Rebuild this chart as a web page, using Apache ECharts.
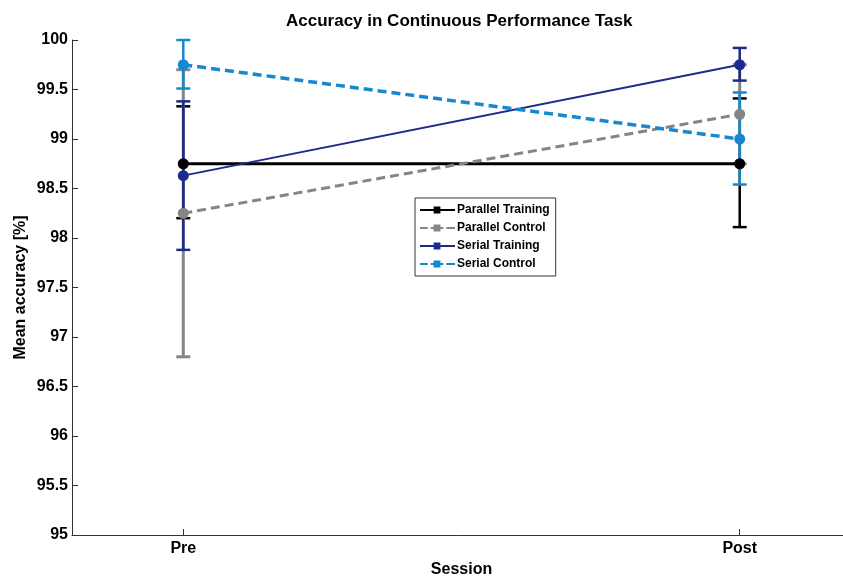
<!DOCTYPE html>
<html>
<head>
<meta charset="utf-8">
<script src="https://cdn.jsdelivr.net/npm/echarts@6/dist/echarts.min.js"></script>
<style>html,body{margin:0;padding:0;background:#fff;}#c{width:843px;height:577px;}</style>
</head>
<body>
<div id="c"></div>
<script>
const sessions = ['Pre', 'Post'];
const seriesNames = ['Parallel Training', 'Parallel Control', 'Serial Training', 'Serial Control'];
const parallelTrainingMean = [98.75, 98.75];
const parallelTrainingLow = [98.20, 98.11];
const parallelTrainingHigh = [99.33, 99.41];
const parallelControlMean = [98.25, 99.25];
const parallelControlLow = [96.80, 98.75];
const parallelControlHigh = [99.70, 99.75];
const serialTrainingMean = [98.63, 99.75];
const serialTrainingLow = [97.88, 99.59];
const serialTrainingHigh = [99.38, 99.92];
const serialControlMean = [99.75, 99.00];
const serialControlLow = [99.51, 98.54];
const serialControlHigh = [100.00, 99.47];
const yTicks = [95, 95.5, 96, 96.5, 97, 97.5, 98, 98.5, 99, 99.5, 100];

const SOLID_ICON = 'path://M0,3L36,3L36,5L0,5Z M14,0.5L21,0.5L21,7.5L14,7.5Z';
const DASH_ICON = 'path://M0,3L8,3L8,5L0,5Z M11,3L24,3L24,5L11,5Z M14,0.5L21,0.5L21,7.5L14,7.5Z M27,3L36,3L36,5L27,5Z';

const groups = [
  {name: seriesNames[0], mean: parallelTrainingMean, low: parallelTrainingLow, high: parallelTrainingHigh, color: '#000000', width: 3, dash: 'solid', ebw: 2.5, icon: SOLID_ICON},
  {name: seriesNames[1], mean: parallelControlMean, low: parallelControlLow, high: parallelControlHigh, color: '#858585', width: 3, dash: [9, 5], ebw: 3, icon: DASH_ICON},
  {name: seriesNames[2], mean: serialTrainingMean, low: serialTrainingLow, high: serialTrainingHigh, color: '#1c2a8c', width: 2, dash: 'solid', ebw: 2.5, icon: SOLID_ICON},
  {name: seriesNames[3], mean: serialControlMean, low: serialControlLow, high: serialControlHigh, color: '#1788cf', width: 3.5, dash: [9, 5], ebw: 2.5, icon: DASH_ICON}
];

const FONT = '"Liberation Sans", Arial, sans-serif';
const series = [];
groups.forEach(function (g, gi) {
  series.push({
    type: 'custom',
    name: g.name + ' err',
    z: 2 + gi,
    data: sessions.map(function (s, i) { return [i + 1, g.low[i], g.high[i]]; }),
    renderItem: function (params, api) {
      const x = api.value(0);
      const p1 = api.coord([x, api.value(1)]);
      const p2 = api.coord([x, api.value(2)]);
      const h = 7;
      const st = {stroke: g.color, lineWidth: g.ebw};
      return {type: 'group', children: [
        {type: 'line', shape: {x1: p1[0], y1: p1[1], x2: p2[0], y2: p2[1]}, style: st},
        {type: 'line', shape: {x1: p1[0] - h, y1: p1[1], x2: p1[0] + h, y2: p1[1]}, style: st},
        {type: 'line', shape: {x1: p2[0] - h, y1: p2[1], x2: p2[0] + h, y2: p2[1]}, style: st}
      ]};
    },
    silent: true
  });
});
groups.forEach(function (g, gi) {
  series.push({
    type: 'line',
    name: g.name,
    z: 10 + gi,
    data: sessions.map(function (s, i) { return [i + 1, g.mean[i]]; }),
    symbol: 'circle',
    symbolSize: 11,
    itemStyle: {color: g.color},
    lineStyle: {color: g.color, width: g.width, type: g.dash},
    animation: false
  });
});

const chart = echarts.init(document.getElementById('c'));
chart.setOption({
  animation: false,
  backgroundColor: '#fff',
  title: {
    text: 'Accuracy in Continuous Performance Task',
    left: 281, top: 8,
    textStyle: {fontFamily: FONT, fontSize: 17, fontWeight: 'bold', color: '#000'}
  },
  legend: {
    data: groups.map(function (g) { return {name: g.name, icon: g.icon}; }),
    orient: 'vertical',
    left: 415, top: 198,
    itemWidth: 35, itemHeight: 8, itemGap: 4,
    padding: [5, 6, 5, 5],
    borderColor: '#333', borderWidth: 1,
    backgroundColor: '#fff',
    textStyle: {fontFamily: FONT, fontSize: 12, fontWeight: 'bold', color: '#000', padding: [0, 0, 0, -3], lineHeight: 14}
  },
  grid: {left: 72, top: 40, width: 779, height: 495, containLabel: false, outerBoundsMode: 'none'},
  xAxis: {
    type: 'value', min: 0.8, max: 2.2,
    name: 'Session', nameLocation: 'middle', nameGap: 26,
    nameTextStyle: {fontFamily: FONT, fontSize: 16, fontWeight: 'bold', color: '#000'},
    axisLine: {lineStyle: {color: '#333', width: 1}},
    axisTick: {inside: true, length: 6, customValues: [1, 2], lineStyle: {color: '#333'}},
    axisLabel: {customValues: [1, 2], formatter: function (v) { return sessions[Math.round(v) - 1]; },
      fontFamily: FONT, fontSize: 16, fontWeight: 'bold', color: '#000', margin: 6},
    splitLine: {show: false}
  },
  yAxis: {
    type: 'value', min: yTicks[0], max: yTicks[yTicks.length - 1], interval: 0.5,
    name: 'Mean accuracy [%]', nameLocation: 'middle', nameGap: 43, nameRotate: 90,
    nameMoveOverlap: false,
    nameTextStyle: {fontFamily: FONT, fontSize: 16, fontWeight: 'bold', color: '#000'},
    axisLine: {show: true, lineStyle: {color: '#333', width: 1}},
    axisTick: {inside: true, length: 6, lineStyle: {color: '#333'}},
    axisLabel: {fontFamily: FONT, fontSize: 16, fontWeight: 'bold', color: '#000', margin: 4},
    splitLine: {show: false}
  },
  series: series
});
</script>
</body>
</html>
